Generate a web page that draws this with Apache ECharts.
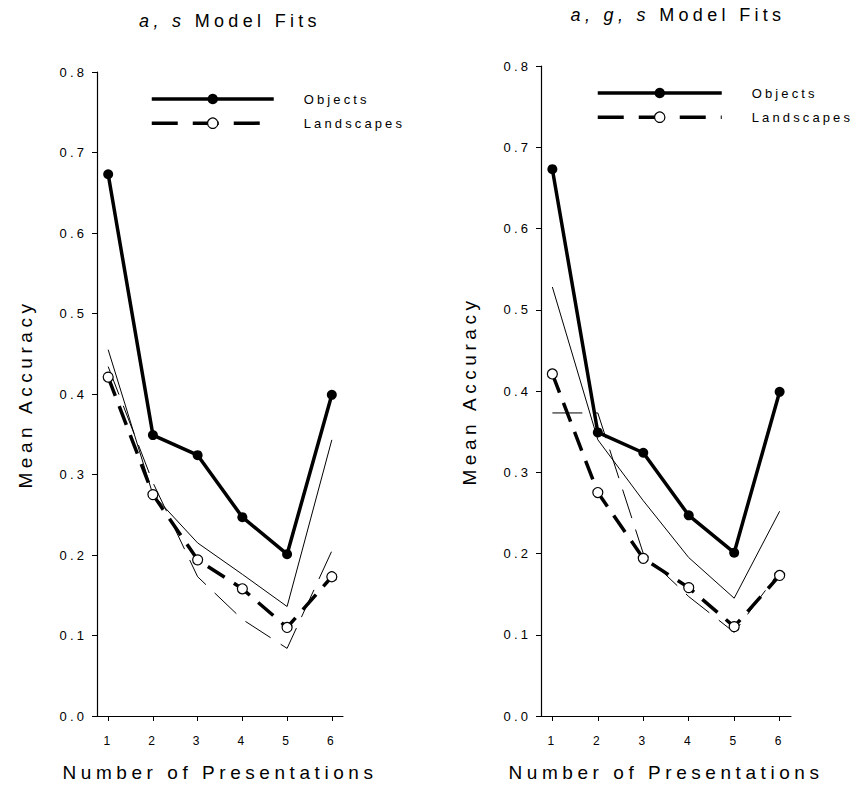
<!DOCTYPE html>
<html>
<head>
<meta charset="utf-8">
<title>Model Fits</title>
<script src="https://cdn.jsdelivr.net/npm/echarts@6/dist/echarts.min.js"></script>
<style>
  html, body { margin: 0; padding: 0; background: #fff; }
  #main { width: 867px; height: 797px; }
  /* the original figure has widely spaced lettering */
  #main text { letter-spacing: 0.24em; }
</style>
</head>
<body>
<div id="main"></div>
<script>
// x categories (number of presentations)
var presentations = [1, 2, 3, 4, 5, 6];
// observed mean accuracy
var objects = [0.673, 0.349, 0.324, 0.247, 0.201, 0.399];
var landscapes = [0.421, 0.275, 0.194, 0.158, 0.110, 0.173];
// a, s model fits
var objectsFitAS = [0.455, 0.275, 0.215, 0.176, 0.136, 0.343];
var landscapesFitAS = [0.434, 0.290, 0.173, 0.120, 0.084, 0.205];
// a, g, s model fits
var objectsFitAGS = [0.528, 0.340, 0.265, 0.195, 0.145, 0.252];
var landscapesFitAGS = [0.373, 0.373, 0.200, 0.147, 0.103, 0.178];

var FONT = "Arial, 'Liberation Sans', sans-serif";
var SPACING = 0.24;

// text widths must include the letter spacing so layout stays right
var measureCtx = document.createElement('canvas').getContext('2d');
if (echarts.setPlatformAPI) {
  echarts.setPlatformAPI({
    measureText: function (text, font) {
      measureCtx.font = font || '12px sans-serif';
      var m = font && font.match(/(\d+(\.\d+)?)px/);
      var size = m ? parseFloat(m[1]) : 12;
      text = String(text == null ? '' : text);
      return { width: measureCtx.measureText(text).width + text.length * size * SPACING };
    }
  });
}

function pts(vals) {
  return presentations.map(function (p, i) { return [p, vals[i]]; });
}

function makeSeries(gi, objFit, landFit) {
  return [
    {
      name: 'Objects fit', type: 'line', xAxisIndex: gi, yAxisIndex: gi,
      data: pts(objFit), symbol: 'none', silent: true, z: 2,
      lineStyle: { color: '#000', width: 1 }
    },
    {
      name: 'Landscapes fit', type: 'line', xAxisIndex: gi, yAxisIndex: gi,
      data: pts(landFit), symbol: 'none', silent: true, z: 2,
      lineStyle: { color: '#000', width: 1, type: [30, 12] }
    },
    {
      name: 'Objects', type: 'line', xAxisIndex: gi, yAxisIndex: gi,
      data: pts(objects), symbol: 'circle', symbolSize: 10, z: 3,
      lineStyle: { color: '#000', width: 3.5 },
      itemStyle: { color: '#000' }
    },
    {
      name: 'Landscapes', type: 'line', xAxisIndex: gi, yAxisIndex: gi,
      data: pts(landscapes), symbol: 'circle', symbolSize: 10, z: 4,
      lineStyle: { color: '#000', width: 3.5, type: [20, 11] },
      itemStyle: { color: '#fff', borderColor: '#000', borderWidth: 1.2 }
    }
  ];
}

function makeX(gi) {
  return {
    type: 'value', gridIndex: gi, min: 0.75, max: 6.25,
    axisLine: { lineStyle: { color: '#000', width: 1.2 } },
    axisTick: { show: true, length: 5, customValues: presentations, lineStyle: { color: '#000' } },
    axisLabel: { customValues: presentations, fontSize: 12, color: '#000', margin: 18, fontFamily: FONT },
    splitLine: { show: false },
    name: 'Number of Presentations', nameLocation: 'middle', nameGap: 45,
    nameTextStyle: { fontSize: 19, color: '#000', fontFamily: FONT }
  };
}

function makeY(gi) {
  return {
    type: 'value', gridIndex: gi, min: 0, max: 0.8, interval: 0.1,
    axisLine: { show: true, lineStyle: { color: '#000', width: 1.2 } },
    axisTick: { show: true, length: 5, lineStyle: { color: '#000' } },
    axisLabel: {
      fontSize: 13, color: '#000', margin: 10, fontFamily: FONT,
      formatter: function (v) { return v.toFixed(1); }
    },
    splitLine: { show: false },
    name: 'Mean Accuracy', nameLocation: 'middle', nameGap: 60,
    nameTextStyle: { fontSize: 19, color: '#000', fontFamily: FONT }
  };
}

function makeTitle(label, x, y) {
  return {
    text: '{it|' + label + ' }{n|Model Fits}',
    left: x, top: y, textAlign: 'center', textVerticalAlign: 'top', padding: 0,
    textStyle: {
      fontWeight: 'normal',
      rich: {
        it: { fontStyle: 'italic', fontWeight: 'normal', fontSize: 18, color: '#000', fontFamily: FONT },
        n: { fontWeight: 'normal', fontSize: 18, color: '#000', fontFamily: FONT }
      }
    }
  };
}

function makeLegend(x, y, w) {
  return {
    left: x, top: y, orient: 'vertical', padding: 0,
    itemWidth: w, itemHeight: 13, itemGap: 8,
    lineStyle: { width: 3.5 },
    itemStyle: { borderWidth: 1.2 },
    textStyle: { fontSize: 13, color: '#000', fontFamily: FONT, padding: [0, 0, 0, 25] },
    data: [
      { name: 'Objects' },
      { name: 'Landscapes', lineStyle: { width: 3.5, type: [26, 15] } }
    ]
  };
}

var myChart = echarts.init(document.getElementById('main'), null, { renderer: 'svg' });
var option = {
  backgroundColor: '#fff',
  animation: false,
  title: [makeTitle('a, s', 230, 10), makeTitle('a, g, s', 678, 4)],
  legend: [makeLegend(150, 91, 122), makeLegend(596, 85, 124)],
  grid: [
    { left: 97, top: 72, width: 246, height: 644 },
    { left: 541, top: 66, width: 250, height: 650 }
  ],
  xAxis: [makeX(0), makeX(1)],
  yAxis: [makeY(0), makeY(1)],
  series: makeSeries(0, objectsFitAS, landscapesFitAS)
    .concat(makeSeries(1, objectsFitAGS, landscapesFitAGS))
};
myChart.setOption(option);
</script>
</body>
</html>
